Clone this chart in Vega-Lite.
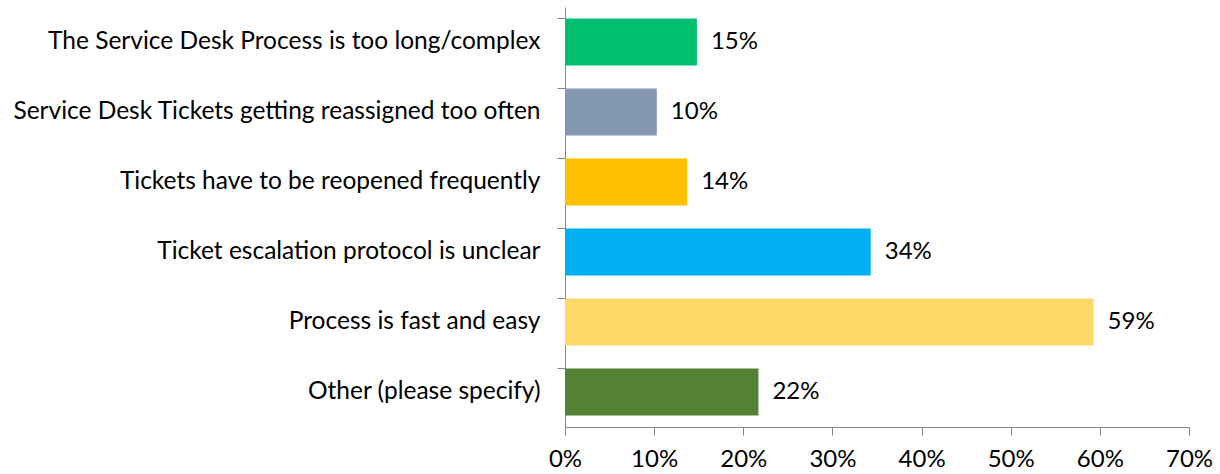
{
  "$schema": "https://vega.github.io/schema/vega-lite/v6.json",
  "autosize": {"type": "none"},
  "padding": {"left": 565, "top": 7, "right": 31, "bottom": 47},
  "width": 624,
  "height": 420,
  "background": "white",
  "data": {
    "values": [
      {"category": "The Service Desk Process is too long/complex", "value": 0.148, "color": "#00BF6F"},
      {"category": "Service Desk Tickets getting reassigned too often", "value": 0.103, "color": "#8497B0"},
      {"category": "Tickets have to be reopened frequently", "value": 0.137, "color": "#FFC000"},
      {"category": "Ticket escalation protocol is unclear", "value": 0.343, "color": "#00B0F0"},
      {"category": "Process is fast and easy", "value": 0.593, "color": "#FFD966"},
      {"category": "Other (please specify)", "value": 0.217, "color": "#548235"}
    ]
  },
  "config": {
    "view": {"stroke": null},
    "font": "Lato",
    "axis": {
      "domainColor": "#868686",
      "tickColor": "#868686",
      "labelColor": "#000000",
      "labelFont": "Lato",
      "labelFontSize": 24,
      "grid": false,
      "title": null
    }
  },
  "encoding": {
    "y": {
      "field": "category",
      "type": "nominal",
      "sort": null,
      "scale": {"paddingInner": 0.33, "paddingOuter": 0.165},
      "axis": {"bandPosition": 0, "tickSize": 8, "labelPadding": 17, "labelLimit": 600, "labelFontSize": 24.5, "domainWidth": 1}
    },
    "x": {
      "field": "value",
      "type": "quantitative",
      "scale": {"domain": [0, 0.7], "nice": false},
      "axis": {"format": ".0%", "values": [0, 0.1, 0.2, 0.3, 0.4, 0.5, 0.6, 0.7], "tickSize": 8, "labelPadding": 12, "labelFlush": false}
    }
  },
  "layer": [
    {
      "mark": {"type": "bar"},
      "encoding": {
        "color": {"field": "color", "type": "nominal", "scale": null}
      }
    },
    {
      "mark": {"type": "text", "align": "left", "baseline": "middle", "dx": 14, "fontSize": 24, "color": "#000000"},
      "encoding": {
        "text": {"field": "value", "type": "quantitative", "format": ".0%"}
      }
    }
  ]
}
